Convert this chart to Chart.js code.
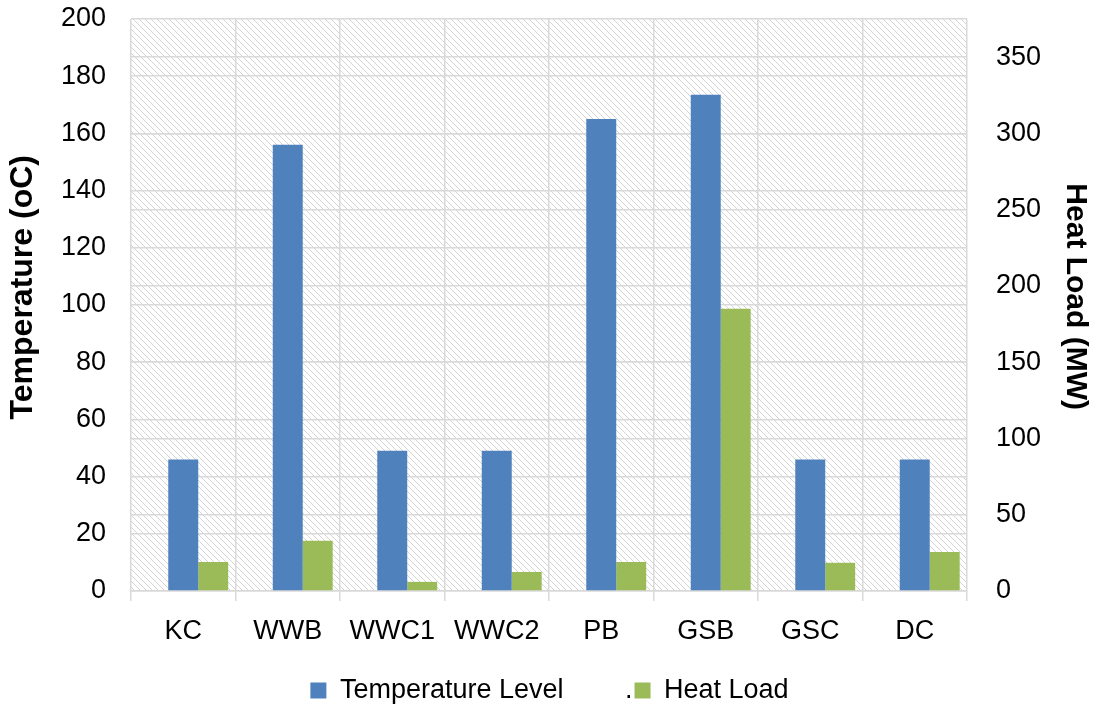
<!DOCTYPE html>
<html>
<head>
<meta charset="utf-8">
<script src="https://cdn.jsdelivr.net/npm/chart.js@4/dist/chart.umd.min.js"></script>
<style>
  html, body { margin: 0; padding: 0; background: #ffffff; }
  #wrap { width: 1099px; height: 706px; position: relative; }
</style>
</head>
<body>
<div id="wrap"><canvas id="c"></canvas></div>
<script>
// ---- data ----
const categories = ['KC', 'WWB', 'WWC1', 'WWC2', 'PB', 'GSB', 'GSC', 'DC'];
const temperatureLevel = [46, 156, 49, 49, 165, 173.5, 46, 46];      // °C, left axis
const heatLoad = [19, 33, 6, 12.5, 19, 185, 18.5, 25.5];            // MW, right axis
const spacerSeries = [null, null, null, null, null, null, null, null]; // the "." series (empty)
const leftTicks = [0, 20, 40, 60, 80, 100, 120, 140, 160, 180, 200];
const rightTicks = [0, 50, 100, 150, 200, 250, 300, 350];
const seriesNames = ['Temperature Level', '.', 'Heat Load'];

const FONT = '"Liberation Sans", Arial, Helvetica, sans-serif';
const GRID = '#d9d9d9';

// hatched background pattern
function makePattern(ctx) {
  const p = document.createElement('canvas');
  p.width = 6; p.height = 6;
  const g = p.getContext('2d');
  g.fillStyle = '#ffffff';
  g.fillRect(0, 0, 6, 6);
  g.strokeStyle = '#d4d4d4';
  g.lineWidth = 1;
  g.beginPath();
  g.moveTo(-1, -1); g.lineTo(7, 7);
  g.moveTo(-1, 5); g.lineTo(1, 7);
  g.moveTo(5, -1); g.lineTo(7, 1);
  g.stroke();
  return ctx.createPattern(p, 'repeat');
}

const hatchPlugin = {
  id: 'hatch',
  beforeDraw(chart) {
    const {ctx, chartArea: a} = chart;
    ctx.save();
    ctx.fillStyle = makePattern(ctx);
    ctx.fillRect(a.left, a.top, a.right - a.left, a.bottom - a.top);
    ctx.restore();
  }
};

// nudge legend down a little
const legendShift = {
  id: 'legendShift',
  afterLayout(chart) {
    if (chart.legend) { chart.legend.top += 8; chart.legend.bottom += 8; }
  }
};

const spacerLabel = '    ' + seriesNames[1];

new Chart(document.getElementById('c'), {
  type: 'bar',
  data: {
    labels: categories,
    datasets: [
      { label: spacerLabel, data: spacerSeries, yAxisID: 'y', backgroundColor: 'rgba(0,0,0,0)', borderWidth: 0 },
      { label: seriesNames[0], data: temperatureLevel, yAxisID: 'y', backgroundColor: '#4f81bd', borderWidth: 0 },
      { label: seriesNames[2], data: heatLoad, yAxisID: 'y2', backgroundColor: '#9bbb59', borderWidth: 0 }
    ]
  },
  options: {
    responsive: true,
    maintainAspectRatio: false,
    animation: false,
    layout: { padding: { top: 19, left: 0, right: 0, bottom: 0 } },
    datasets: { bar: { categoryPercentage: 0.86, barPercentage: 1.0 } },
    plugins: {
      tooltip: { enabled: false },
      legend: {
        position: 'bottom',
        labels: {
          font: { family: FONT, size: 27 },
          color: '#000',
          boxWidth: 16,
          boxHeight: 16,
          padding: 2,
          sort: (a, b) => [1, 0, 2][a.datasetIndex] - [1, 0, 2][b.datasetIndex]
        }
      }
    },
    scales: {
      x: {
        grid: { offset: true, color: GRID, lineWidth: 1.5, drawTicks: true, tickLength: 10, tickColor: GRID },
        border: { display: false },
        ticks: { font: { family: FONT, size: 27 }, color: '#000', padding: 14, maxRotation: 0 },
        afterFit(s) { s.height = 76; }
      },
      y: {
        position: 'left',
        min: 0, max: 200,
        afterBuildTicks(s) { s.ticks = leftTicks.map(v => ({ value: v })); },
        grid: { color: GRID, lineWidth: 1.5, drawTicks: false },
        border: { display: false },
        ticks: { font: { family: FONT, size: 27 }, color: '#000', padding: 25 },
        title: { display: true, text: '    Temperature (oC)', font: { family: FONT, size: 32, weight: 'bold' }, color: '#000', padding: { top: 4, bottom: 0 } },
        afterFit(s) { s.width = 131; s.paddingTop = 0; s.paddingBottom = 0; }
      },
      y2: {
        position: 'right',
        min: 0, max: 375,
        afterBuildTicks(s) { s.ticks = rightTicks.map(v => ({ value: v })); },
        grid: { color: GRID, lineWidth: 1.5, drawTicks: false, drawOnChartArea: true },
        border: { display: false },
        ticks: { font: { family: FONT, size: 27 }, color: '#000', padding: 29 },
        title: { display: true, text: 'Heat Load (MW)  ', font: { family: FONT, size: 30, weight: 'bold' }, color: '#000', padding: { top: 6, bottom: 0 } },
        afterFit(s) { s.width = 132; s.paddingTop = 0; s.paddingBottom = 0; }
      }
    }
  },
  plugins: [hatchPlugin, legendShift]
});
</script>
</body>
</html>
